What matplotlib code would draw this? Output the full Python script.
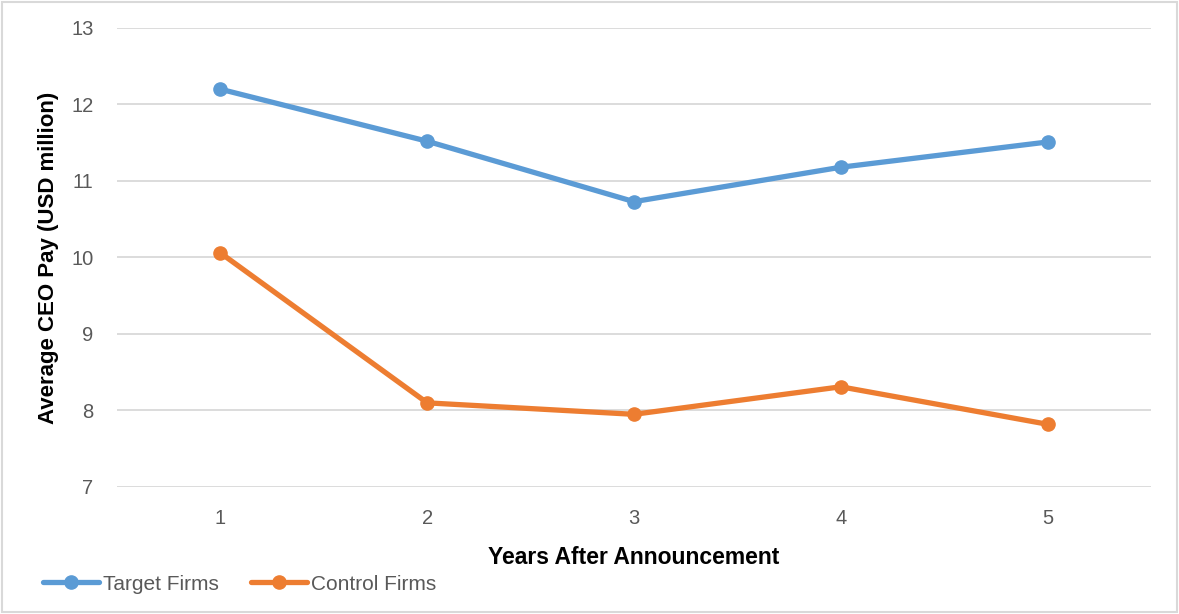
import matplotlib
matplotlib.use("Agg")
import matplotlib.pyplot as plt
from matplotlib.patches import Rectangle

years = ["1", "2", "3", "4", "5"]
target = [12.20, 11.52, 10.73, 11.18, 11.51]
control = [10.06, 8.10, 7.95, 8.31, 7.82]
yticks = [7, 8, 9, 10, 11, 12, 13]

plt.rcParams['font.family'] = ['Liberation Sans', 'DejaVu Sans']

fig = plt.figure(figsize=(11.79, 6.14), dpi=100)
ax = fig.add_axes([117/1179, 1-487/614, (1151-117)/1179, (487-28)/614])

x = list(range(1, len(years)+1))
ax.plot(x, target, color='#5B9BD5', lw=3.8, marker='o', ms=9.5, label='Target Firms', solid_capstyle='round')
ax.plot(x, control, color='#ED7D31', lw=3.8, marker='o', ms=9.5, label='Control Firms', solid_capstyle='round')

ax.set_xlim(0.5, 5.5)
ax.set_ylim(7, 13)
ax.set_yticks(yticks)
ax.set_xticks(x)
ax.set_xticklabels(years)
ax.yaxis.grid(True, color='#D9D9D9', lw=1.3)
ax.set_axisbelow(True)
for s in ax.spines.values():
    s.set_visible(False)
ax.tick_params(axis='both', length=0, labelsize=14.5, colors='#595959')
ax.tick_params(axis='y', pad=17)
ax.tick_params(axis='x', pad=16)

ax.set_xlabel('Years After Announcement', fontsize=16.5, fontweight='bold', color='black', labelpad=13)
ax.set_ylabel('Average CEO Pay (USD million)', fontsize=16, fontweight='bold', color='black', labelpad=9)

leg = fig.legend(loc='center left', bbox_to_anchor=(43/1179, 1-584/614), ncol=2, frameon=False,
                 fontsize=15, handlelength=2.7, handletextpad=0.2, columnspacing=1.5, borderpad=0,
                 borderaxespad=0)
for t in leg.get_texts():
    t.set_color('#595959')

fig.patches.append(Rectangle((0.002, 0.003), 0.996, 0.994, transform=fig.transFigure,
                             fill=False, edgecolor='#D9D9D9', lw=1.5))

fig.savefig('out.png', dpi=100)
